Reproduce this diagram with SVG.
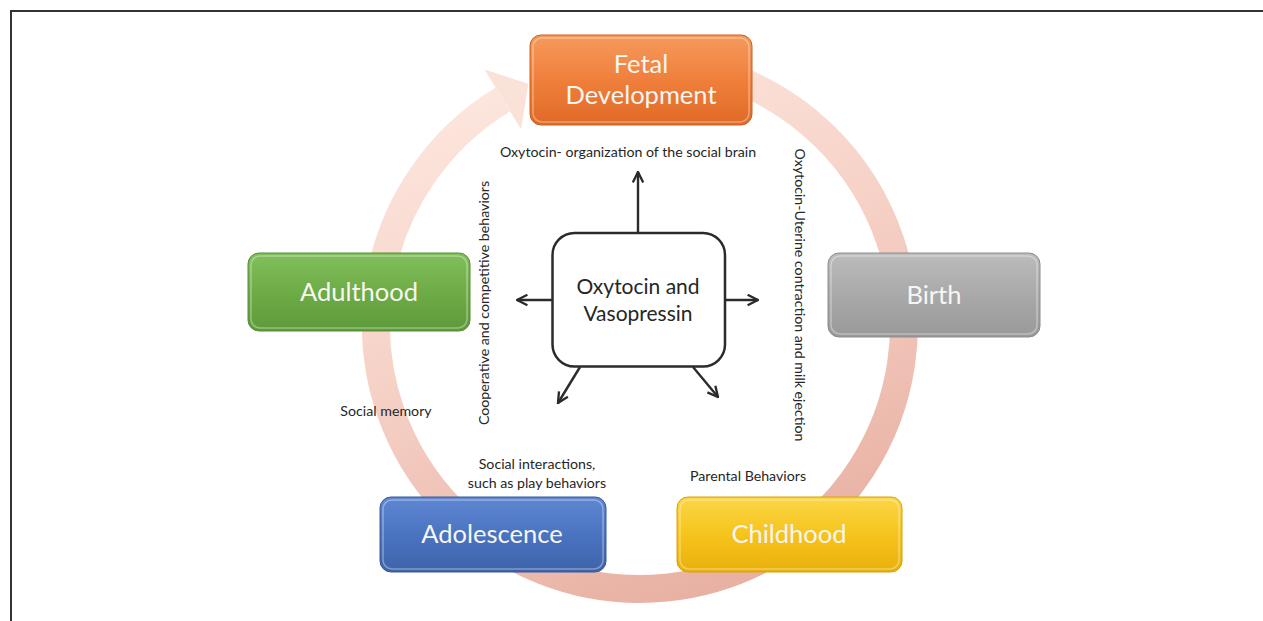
<svg xmlns="http://www.w3.org/2000/svg" width="1263" height="621" viewBox="0 0 1263 621">
<style>
.box-text{font-family:Lato,"Open Sans","Liberation Sans",sans-serif;font-size:25.5px;fill:#f8f6f2;text-anchor:middle}
.lbl{font-family:Lato,"Open Sans","Liberation Sans",sans-serif;font-size:14.2px;fill:#262626}
.ctr{font-family:Lato,"Open Sans","Liberation Sans",sans-serif;font-size:21px;fill:#262626;text-anchor:middle}
.conn{stroke:#2b2b2b;stroke-width:2.4;fill:none;marker-end:url(#arr)}
.hl{fill:none;stroke:#ffffff;stroke-opacity:0.35;stroke-width:1.5}
</style>
<defs>
<linearGradient id="ring" gradientUnits="userSpaceOnUse" x1="500" y1="60" x2="700" y2="590">
<stop offset="0" stop-color="#fde8e0"/>
<stop offset="0.5" stop-color="#f5cfc4"/>
<stop offset="1" stop-color="#e8b1a3"/>
</linearGradient>
<linearGradient id="gOr" x1="0" y1="0" x2="0" y2="1"><stop offset="0" stop-color="#f69a5c"/><stop offset="0.5" stop-color="#f07f3c"/><stop offset="1" stop-color="#e06a26"/></linearGradient>
<linearGradient id="gGr" x1="0" y1="0" x2="0" y2="1"><stop offset="0" stop-color="#bcbcbc"/><stop offset="0.5" stop-color="#a9a9a9"/><stop offset="1" stop-color="#999999"/></linearGradient>
<linearGradient id="gGn" x1="0" y1="0" x2="0" y2="1"><stop offset="0" stop-color="#80bf59"/><stop offset="0.5" stop-color="#6dac46"/><stop offset="1" stop-color="#5e9a3a"/></linearGradient>
<linearGradient id="gBl" x1="0" y1="0" x2="0" y2="1"><stop offset="0" stop-color="#5f87d2"/><stop offset="0.5" stop-color="#4a73c1"/><stop offset="1" stop-color="#3e63a9"/></linearGradient>
<linearGradient id="gYe" x1="0" y1="0" x2="0" y2="1"><stop offset="0" stop-color="#fbd647"/><stop offset="0.5" stop-color="#f6c41c"/><stop offset="1" stop-color="#e9b00b"/></linearGradient>
<marker id="arr" viewBox="0 0 10 10" refX="9" refY="5" markerWidth="13" markerHeight="13" markerUnits="userSpaceOnUse" orient="auto">
<path d="M1,1 L9,5 L1,9" fill="none" stroke="#2b2b2b" stroke-width="1.8"/>
</marker>
</defs>
<rect width="1263" height="621" fill="#ffffff"/>
<g id="frame" stroke="#333333" stroke-width="2" fill="none">
<path d="M11,621 L11,11 L1263,11"/>
</g>
<g id="cycle-ring">
<path d="M730.3,76.9 A264,264 0 1 1 502.8,99.4" fill="none" stroke="url(#ring)" stroke-width="28"/>
<polygon points="484.6,69.5 528.4,83.8 521.0,129.3" fill="#fbe2d9"/>
</g>
<g id="connectors">
<line class="conn" x1="638" y1="232" x2="638" y2="172"/>
<line class="conn" x1="725" y1="300" x2="758" y2="300"/>
<line class="conn" x1="552" y1="300" x2="517" y2="300"/>
<line class="conn" x1="580" y1="367" x2="558" y2="403"/>
<line class="conn" x1="693" y1="367" x2="718" y2="397"/>
</g>
<g id="fetal-development">
<rect x="530" y="35" width="222" height="90" rx="11" fill="url(#gOr)" stroke="#c9601f" stroke-width="1"/>
<rect class="hl" x="533" y="38" width="216" height="84" rx="9"/>
<text class="box-text" x="641" y="73">Fetal</text>
<text class="box-text" x="641" y="104">Development</text>
</g>
<g id="birth">
<rect x="828" y="253" width="212" height="84" rx="11" fill="url(#gGr)" stroke="#8c8c8c" stroke-width="1"/>
<rect class="hl" x="831" y="256" width="206" height="78" rx="9"/>
<text class="box-text" x="934" y="304">Birth</text>
</g>
<g id="adulthood">
<rect x="248" y="253" width="222" height="78" rx="11" fill="url(#gGn)" stroke="#558c34" stroke-width="1"/>
<rect class="hl" x="251" y="256" width="216" height="72" rx="9"/>
<text class="box-text" x="359" y="301">Adulthood</text>
</g>
<g id="adolescence">
<rect x="380" y="497" width="226" height="75" rx="11" fill="url(#gBl)" stroke="#37599a" stroke-width="1"/>
<rect class="hl" x="383" y="500" width="220" height="69" rx="9"/>
<text class="box-text" x="492" y="543">Adolescence</text>
</g>
<g id="childhood">
<rect x="677" y="497" width="225" height="75" rx="11" fill="url(#gYe)" stroke="#d6a10a" stroke-width="1"/>
<rect class="hl" x="680" y="500" width="219" height="69" rx="9"/>
<text class="box-text" x="789" y="543">Childhood</text>
</g>
<g id="oxytocin-vasopressin">
<rect x="552.5" y="233" width="172.5" height="133.5" rx="22" fill="#ffffff" stroke="#2b2b2b" stroke-width="2.5"/>
<text class="ctr" x="638" y="294">Oxytocin and</text>
<text class="ctr" x="638" y="321">Vasopressin</text>
</g>
<g id="labels">
<text class="lbl" x="628" y="157" text-anchor="middle">Oxytocin- organization of the social brain</text>
<text class="lbl" transform="translate(795,295) rotate(90)" text-anchor="middle">Oxytocin-Uterine contraction and milk ejection</text>
<text class="lbl" transform="translate(489,303) rotate(-90)" text-anchor="middle">Cooperative and competitive behaviors</text>
<text class="lbl" x="386" y="416" text-anchor="middle">Social memory</text>
<text class="lbl" x="537" y="469" text-anchor="middle">Social interactions,</text>
<text class="lbl" x="537" y="488" text-anchor="middle">such as play behaviors</text>
<text class="lbl" x="690" y="481">Parental Behaviors</text>
</g>
</svg>
